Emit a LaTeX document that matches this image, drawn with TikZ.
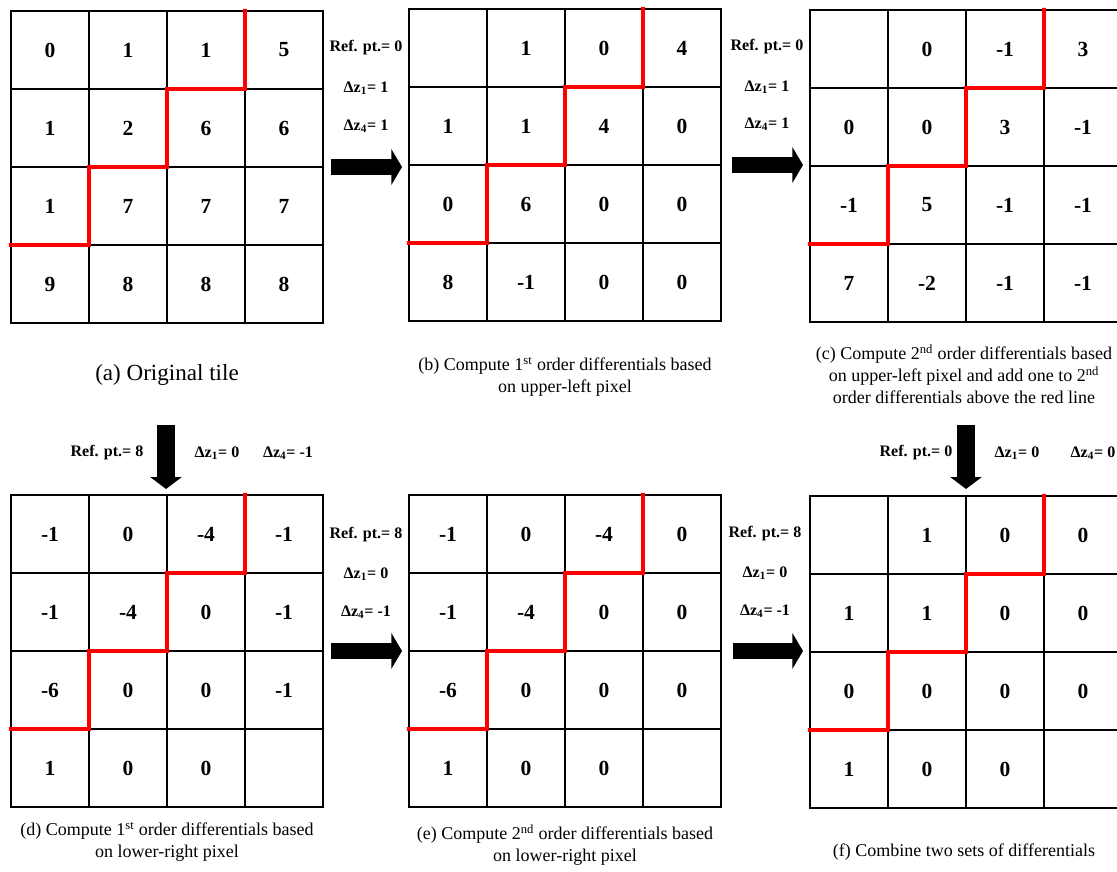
\documentclass[tikz,border=0pt]{standalone}
\usepackage{fontspec}
\setmainfont{Liberation Serif}
\usetikzlibrary{positioning, arrows.meta}

\begin{document}
\begin{tikzpicture}[
    x=0.025cm, y=-0.025cm,
    cell/.style={rectangle, draw, line width=1.4pt, minimum size=1.95cm, inner sep=0pt, outer sep=0pt, font=\fontsize{15.3}{18}\selectfont\bfseries},
    redline/.style={draw=red, line width=2.8pt},
    lbl/.style={font=\fontsize{11.4}{13}\selectfont\bfseries, inner sep=0pt},
    caption/.style={align=center, font=\fontsize{12.8}{15.6}\selectfont, inner sep=0pt},
    harrow/.style={line width=10.7pt, -{Triangle[length=7.5pt, width=25pt]}},
    varrow/.style={line width=12.5pt, -{Triangle[length=8.5pt, width=22pt]}},
]
\useasboundingbox (0,0) rectangle (1117,872);
\clip (0,0) rectangle (1117,872);

%% TILES
    % (a) original tile
    \foreach \row [count=\r] in {{0,1,1,5},{1,2,6,6},{1,7,7,7},{9,8,8,8}}
        \foreach \v [count=\c] in \row
            \node[cell] (a-\r-\c) at ({11+78*\c-39}, {11+78*\r-39}) {\v};

    % (b) 1st order, upper-left
    \foreach \row [count=\r] in {{{},1,0,4},{1,1,4,0},{0,6,0,0},{8,-1,0,0}}
        \foreach \v [count=\c] in \row
            \node[cell] (b-\r-\c) at ({409+78*\c-39}, {9+78*\r-39}) {\v};

    % (c) 2nd order, upper-left
    \foreach \row [count=\r] in {{{},0,-1,3},{0,0,3,-1},{-1,5,-1,-1},{7,-2,-1,-1}}
        \foreach \v [count=\c] in \row
            \node[cell] (c-\r-\c) at ({810+78*\c-39}, {10+78*\r-39}) {\v};

    % (d) 1st order, lower-right
    \foreach \row [count=\r] in {{-1,0,-4,-1},{-1,-4,0,-1},{-6,0,0,-1},{1,0,0,{}}}
        \foreach \v [count=\c] in \row
            \node[cell] (d-\r-\c) at ({11+78*\c-39}, {495+78*\r-39}) {\v};

    % (e) 2nd order, lower-right
    \foreach \row [count=\r] in {{-1,0,-4,0},{-1,-4,0,0},{-6,0,0,0},{1,0,0,{}}}
        \foreach \v [count=\c] in \row
            \node[cell] (e-\r-\c) at ({409+78*\c-39}, {495+78*\r-39}) {\v};

    % (f) combined
    \foreach \row [count=\r] in {{{},1,0,0},{1,1,0,0},{0,0,0,0},{1,0,0,{}}}
        \foreach \v [count=\c] in \row
            \node[cell] (f-\r-\c) at ({810+78*\c-39}, {496+78*\r-39}) {\v};

    % red staircase
    \foreach \t in {a,b,c,d,e,f}
        \draw[redline] ([xshift=-1.5pt]\t-4-1.north west) -- (\t-4-1.north east) -- (\t-3-2.north west)
            -- (\t-3-2.north east) -- (\t-2-3.north west) -- (\t-2-3.north east)
            -- (\t-1-4.north west) -- ++(0,-2);

%% LABELS
    \node[lbl] (b-ref) at (366,48) {Ref. pt.= 0};
    \node[lbl] (b-dz1) at (366,88) {Δz\textsubscript{1}= 1};
    \node[lbl] (b-dz4) at (366,126) {Δz\textsubscript{4}= 1};

    \node[lbl] (c-ref) at (767,47) {Ref. pt.= 0};
    \node[lbl] (c-dz1) at (767,87) {Δz\textsubscript{1}= 1};
    \node[lbl] (c-dz4) at (767,124) {Δz\textsubscript{4}= 1};

    \node[lbl] (d-ref) at (107,453) {Ref. pt.= 8};
    \node[lbl] (d-dz1) at (217,453) {Δz\textsubscript{1}= 0};
    \node[lbl] (d-dz4) at (288,453) {Δz\textsubscript{4}= -1};

    \node[lbl] (e-ref) at (366,535) {Ref. pt.= 8};
    \node[lbl] (e-dz1) at (366,574) {Δz\textsubscript{1}= 0};
    \node[lbl] (e-dz4) at (366,612) {Δz\textsubscript{4}= -1};

    \node[lbl] (f-ref) at (765,534) {Ref. pt.= 8};
    \node[lbl] (f-dz1) at (765,573) {Δz\textsubscript{1}= 0};
    \node[lbl] (f-dz4) at (765,611) {Δz\textsubscript{4}= -1};

    \node[lbl] (cf-ref) at (916,453) {Ref. pt.= 0};
    \node[lbl] (cf-dz1) at (1017,453) {Δz\textsubscript{1}= 0};
    \node[lbl] (cf-dz4) at (1093,453) {Δz\textsubscript{4}= 0};

%% CAPTIONS
    \node[caption, font=\fontsize{16.4}{19}\selectfont] (a-cap) at (167,375) {(a) Original tile};
    \node[caption] (b-cap) at (565,377) {(b) Compute 1\textsuperscript{st} order differentials based\\on upper-left pixel};
    \node[caption] (c-cap) at (964,374) {(c) Compute 2\textsuperscript{nd} order differentials based\\on upper-left pixel and add one to 2\textsuperscript{nd}\\order differentials above the red line};
    \node[caption] (d-cap) at (167,842) {(d) Compute 1\textsuperscript{st} order differentials based\\on lower-right pixel};
    \node[caption] (e-cap) at (565,845) {(e) Compute 2\textsuperscript{nd} order differentials based\\on lower-right pixel};
    \node[caption] (f-cap) at (964,852) {(f) Combine two sets of differentials};

%% ARROWS
    \coordinate (ab-from) at (331,167);
    \coordinate (ab-to) at (402,167);
    \coordinate (bc-from) at (732,165);
    \coordinate (bc-to) at (803,165);
    \coordinate (de-from) at (331,651);
    \coordinate (de-to) at (402,651);
    \coordinate (ef-from) at (733,651);
    \coordinate (ef-to) at (803,651);
    \coordinate (ad-from) at (166,425);
    \coordinate (ad-to) at (166,489);
    \coordinate (cf-from) at (966,425);
    \coordinate (cf-to) at (966,489);

    \draw[harrow] (ab-from) -- (ab-to);
    \draw[harrow] (bc-from) -- (bc-to);
    \draw[harrow] (de-from) -- (de-to);
    \draw[harrow] (ef-from) -- (ef-to);
    \draw[varrow] (ad-from) -- (ad-to);
    \draw[varrow] (cf-from) -- (cf-to);

\end{tikzpicture}
\end{document}
